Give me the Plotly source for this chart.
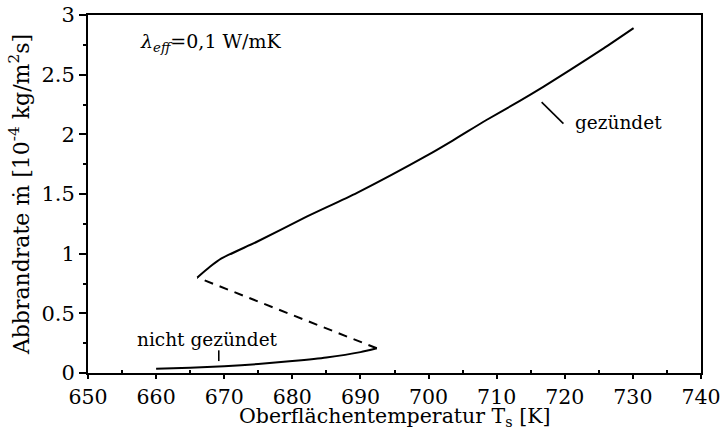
import plotly.graph_objects as go

# Lower (not ignited) branch
lower_T = [660.0, 665.0, 670.0, 675.0, 680.0, 685.0, 690.0, 692.4]
lower_m = [0.035, 0.045, 0.057, 0.075, 0.10, 0.13, 0.175, 0.207]

# Unstable (dashed) branch
mid_T = [692.4, 666.05]
mid_m = [0.207, 0.80]

# Upper (ignited) branch
upper_T = [666.05, 667.9, 669.6, 674.8, 682.1, 689.5, 700.0, 703.6, 708.5, 713.4, 716.9, 720.8, 725.7, 730.1]
upper_m = [0.80, 0.89, 0.96, 1.10, 1.31, 1.51, 1.83, 1.95, 2.12, 2.28, 2.40, 2.54, 2.72, 2.89]

# Leader lines for labels
lead_ign_T = [716.6, 719.8]
lead_ign_m = [2.27, 2.09]
lead_not_T = [669.2, 669.2]
lead_not_m = [0.19, 0.10]

x_ticks = [650, 660, 670, 680, 690, 700, 710, 720, 730, 740]
y_ticks = [0, 0.5, 1, 1.5, 2, 2.5, 3]
y_tick_labels = ["0", "0.5", "1", "1.5", "2", "2.5", "3"]

x_title = "Oberflächentemperatur T<sub>s</sub> [K]"
y_title = "Abbrandrate ṁ [10<sup>-4</sup> kg/m<sup>2</sup>s]"

FONT = "DejaVu Serif"

fig = go.Figure()
fig.add_trace(go.Scatter(x=lower_T, y=lower_m, mode="lines", line=dict(color="black", width=2, shape="spline", smoothing=0.6), hoverinfo="skip"))
fig.add_trace(go.Scatter(x=mid_T, y=mid_m, mode="lines", line=dict(color="black", width=2, dash="9px,7px"), hoverinfo="skip"))
fig.add_trace(go.Scatter(x=upper_T, y=upper_m, mode="lines", line=dict(color="black", width=2, shape="spline", smoothing=0.6), hoverinfo="skip"))
fig.add_trace(go.Scatter(x=lead_ign_T, y=lead_ign_m, mode="lines", line=dict(color="black", width=1.6), hoverinfo="skip"))
fig.add_trace(go.Scatter(x=lead_not_T, y=lead_not_m, mode="lines", line=dict(color="black", width=1.6), hoverinfo="skip"))

fig.add_annotation(x=657.3, y=2.77, xanchor="left", yanchor="middle", showarrow=False,
                   text="<i>λ</i><sub><i>eff</i></sub>=0,1 W/mK", font=dict(family=FONT, size=19, color="black"))
fig.add_annotation(x=721.2, y=2.10, xanchor="left", yanchor="middle", showarrow=False,
                   text="gezündet", font=dict(family=FONT, size=18.5, color="black"))
fig.add_annotation(x=667.6, y=0.28, xanchor="center", yanchor="middle", showarrow=False,
                   text="nicht gezündet", font=dict(family=FONT, size=18.5, color="black"))
# x axis title as a paper-positioned annotation
fig.add_annotation(x=0.5, y=-0.123, xref="paper", yref="paper", xanchor="center", yanchor="middle",
                   showarrow=False, text=x_title, font=dict(family=FONT, size=20.5, color="black"))

fig.update_layout(
    width=725, height=430,
    margin=dict(l=88, r=24, t=15, b=57),
    paper_bgcolor="white", plot_bgcolor="white",
    showlegend=False,
    font=dict(family=FONT, color="black"),
)
fig.update_xaxes(
    range=[650, 740], tickvals=x_ticks, ticktext=[str(v) for v in x_ticks],
    ticks="outside", ticklen=4, tickwidth=2, tickcolor="black",
    showline=True, linecolor="black", linewidth=2, mirror=True,
    showgrid=False, zeroline=False, automargin=False,
    tickfont=dict(family=FONT, size=20.5, color="black"),
    minor=dict(tickvals=[655, 665, 675, 685, 695, 705, 715, 725, 735], ticks="inside", ticklen=3, tickwidth=1.5, tickcolor="black"),
)
fig.update_yaxes(
    range=[0, 3], tickvals=y_ticks, ticktext=y_tick_labels,
    ticks="outside", ticklen=7, tickwidth=2, tickcolor="black",
    showline=True, linecolor="black", linewidth=2, mirror=True,
    showgrid=False, zeroline=False, automargin=False,
    tickfont=dict(family=FONT, size=21, color="black"),
    minor=dict(tickvals=[0.25, 0.75, 1.25, 1.75, 2.25, 2.75], ticks="outside", ticklen=3, tickwidth=1.5, tickcolor="black"),
    title=dict(text=y_title, font=dict(family=FONT, size=22, color="black"), standoff=6),
)

fig.write_html("out.html")
